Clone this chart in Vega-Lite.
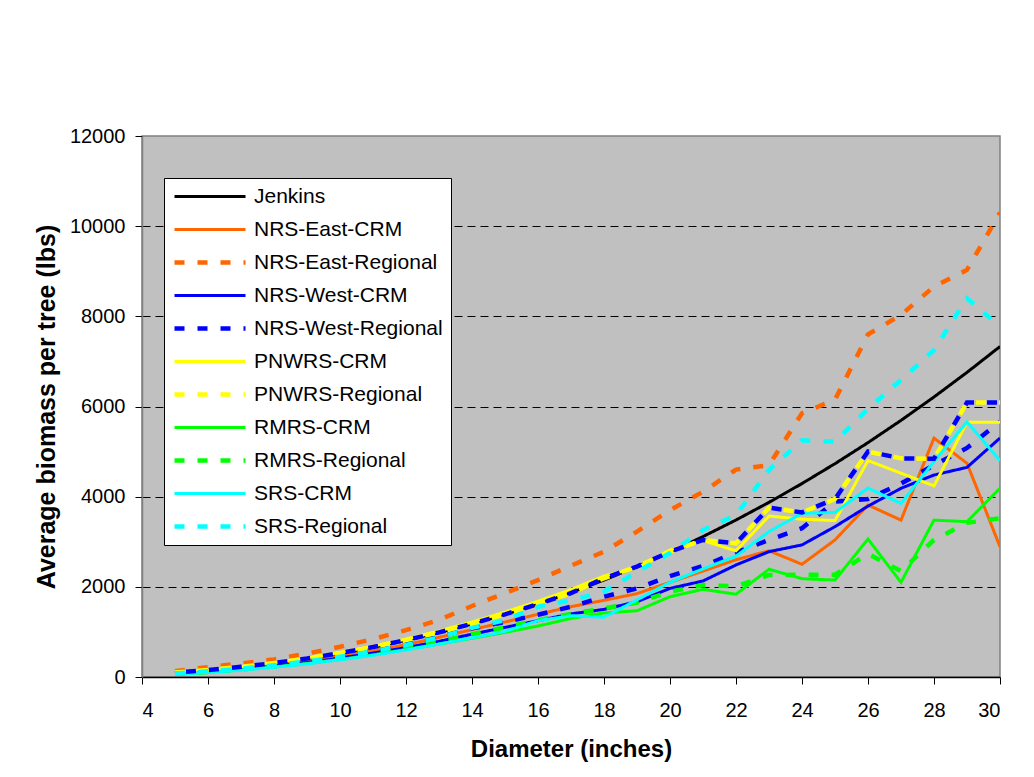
{
  "$schema": "https://vega.github.io/schema/vega-lite/v6.json",
  "autosize": {"type": "none"},
  "padding": {"left": 142, "top": 136, "right": 34, "bottom": 100},
  "width": 858,
  "height": 541,
  "background": "white",
  "config": {
    "font": "Liberation Sans",
    "view": {"fill": "#C0C0C0", "stroke": "#808080", "strokeWidth": 1.5},
    "axis": {"labelFont": "Liberation Sans", "titleFont": "Liberation Sans", "labelColor": "black", "titleColor": "black"}
  },
  "datasets": {
    "biomass": [
      {"d": 5, "Jenkins": 100, "NRS-East-CRM": 85, "NRS-East-Regional": 130, "NRS-West-CRM": 75, "NRS-West-Regional": 85, "PNWRS-CRM": 105, "PNWRS-Regional": 100, "RMRS-CRM": 65, "RMRS-Regional": 70, "SRS-CRM": 60, "SRS-Regional": 80},
      {"d": 6, "Jenkins": 154, "NRS-East-CRM": 135, "NRS-East-Regional": 220, "NRS-West-CRM": 115, "NRS-West-Regional": 130, "PNWRS-CRM": 160, "PNWRS-Regional": 155, "RMRS-CRM": 105, "RMRS-Regional": 110, "SRS-CRM": 100, "SRS-Regional": 125},
      {"d": 7, "Jenkins": 223, "NRS-East-CRM": 195, "NRS-East-Regional": 300, "NRS-West-CRM": 170, "NRS-West-Regional": 190, "PNWRS-CRM": 230, "PNWRS-Regional": 225, "RMRS-CRM": 160, "RMRS-Regional": 165, "SRS-CRM": 150, "SRS-Regional": 185},
      {"d": 8, "Jenkins": 307, "NRS-East-CRM": 270, "NRS-East-Regional": 390, "NRS-West-CRM": 240, "NRS-West-Regional": 265, "PNWRS-CRM": 320, "PNWRS-Regional": 310, "RMRS-CRM": 225, "RMRS-Regional": 235, "SRS-CRM": 215, "SRS-Regional": 260},
      {"d": 9, "Jenkins": 407, "NRS-East-CRM": 355, "NRS-East-Regional": 520, "NRS-West-CRM": 320, "NRS-West-Regional": 355, "PNWRS-CRM": 420, "PNWRS-Regional": 410, "RMRS-CRM": 300, "RMRS-Regional": 315, "SRS-CRM": 290, "SRS-Regional": 345},
      {"d": 10, "Jenkins": 525, "NRS-East-CRM": 460, "NRS-East-Regional": 670, "NRS-West-CRM": 420, "NRS-West-Regional": 460, "PNWRS-CRM": 545, "PNWRS-Regional": 530, "RMRS-CRM": 390, "RMRS-Regional": 410, "SRS-CRM": 380, "SRS-Regional": 450},
      {"d": 11, "Jenkins": 660, "NRS-East-CRM": 580, "NRS-East-Regional": 840, "NRS-West-CRM": 530, "NRS-West-Regional": 580, "PNWRS-CRM": 685, "PNWRS-Regional": 665, "RMRS-CRM": 490, "RMRS-Regional": 510, "SRS-CRM": 480, "SRS-Regional": 570},
      {"d": 12, "Jenkins": 813, "NRS-East-CRM": 715, "NRS-East-Regional": 1040, "NRS-West-CRM": 650, "NRS-West-Regional": 720, "PNWRS-CRM": 840, "PNWRS-Regional": 820, "RMRS-CRM": 610, "RMRS-Regional": 630, "SRS-CRM": 600, "SRS-Regional": 710},
      {"d": 13, "Jenkins": 985, "NRS-East-CRM": 880, "NRS-East-Regional": 1265, "NRS-West-CRM": 790, "NRS-West-Regional": 900, "PNWRS-CRM": 1020, "PNWRS-Regional": 990, "RMRS-CRM": 730, "RMRS-Regional": 780, "SRS-CRM": 730, "SRS-Regional": 880},
      {"d": 14, "Jenkins": 1177, "NRS-East-CRM": 1050, "NRS-East-Regional": 1575, "NRS-West-CRM": 950, "NRS-West-Regional": 1080, "PNWRS-CRM": 1220, "PNWRS-Regional": 1180, "RMRS-CRM": 860, "RMRS-Regional": 950, "SRS-CRM": 870, "SRS-Regional": 1090},
      {"d": 15, "Jenkins": 1389, "NRS-East-CRM": 1220, "NRS-East-Regional": 1860, "NRS-West-CRM": 1100, "NRS-West-Regional": 1220, "PNWRS-CRM": 1440, "PNWRS-Regional": 1390, "RMRS-CRM": 990, "RMRS-Regional": 1100, "SRS-CRM": 1010, "SRS-Regional": 1260},
      {"d": 16, "Jenkins": 1621, "NRS-East-CRM": 1390, "NRS-East-Regional": 2150, "NRS-West-CRM": 1250, "NRS-West-Regional": 1380, "PNWRS-CRM": 1680, "PNWRS-Regional": 1620, "RMRS-CRM": 1130, "RMRS-Regional": 1260, "SRS-CRM": 1250, "SRS-Regional": 1560},
      {"d": 17, "Jenkins": 1875, "NRS-East-CRM": 1560, "NRS-East-Regional": 2470, "NRS-West-CRM": 1400, "NRS-West-Regional": 1560, "PNWRS-CRM": 1940, "PNWRS-Regional": 1860, "RMRS-CRM": 1300, "RMRS-Regional": 1400, "SRS-CRM": 1360, "SRS-Regional": 1700},
      {"d": 18, "Jenkins": 2151, "NRS-East-CRM": 1700, "NRS-East-Regional": 2780, "NRS-West-CRM": 1500, "NRS-West-Regional": 1780, "PNWRS-CRM": 2240, "PNWRS-Regional": 2190, "RMRS-CRM": 1420, "RMRS-Regional": 1520, "SRS-CRM": 1325, "SRS-Regional": 1890},
      {"d": 19, "Jenkins": 2449, "NRS-East-CRM": 1850, "NRS-East-Regional": 3225, "NRS-West-CRM": 1670, "NRS-West-Regional": 1965, "PNWRS-CRM": 2420, "PNWRS-Regional": 2450, "RMRS-CRM": 1470, "RMRS-Regional": 1650, "SRS-CRM": 1710, "SRS-Regional": 2330},
      {"d": 20, "Jenkins": 2770, "NRS-East-CRM": 2100, "NRS-East-Regional": 3700, "NRS-West-CRM": 1965, "NRS-West-Regional": 2240, "PNWRS-CRM": 2820, "PNWRS-Regional": 2780, "RMRS-CRM": 1780, "RMRS-Regional": 1890, "SRS-CRM": 2100, "SRS-Regional": 2750},
      {"d": 21, "Jenkins": 3115, "NRS-East-CRM": 2350, "NRS-East-Regional": 4110, "NRS-West-CRM": 2130, "NRS-West-Regional": 2460, "PNWRS-CRM": 3025, "PNWRS-Regional": 3040, "RMRS-CRM": 1945, "RMRS-Regional": 2040, "SRS-CRM": 2400, "SRS-Regional": 3260},
      {"d": 22, "Jenkins": 3482, "NRS-East-CRM": 2600, "NRS-East-Regional": 4600, "NRS-West-CRM": 2485, "NRS-West-Regional": 2760, "PNWRS-CRM": 2800, "PNWRS-Regional": 2965, "RMRS-CRM": 1835, "RMRS-Regional": 2010, "SRS-CRM": 2680, "SRS-Regional": 3590},
      {"d": 23, "Jenkins": 3874, "NRS-East-CRM": 2800, "NRS-East-Regional": 4700, "NRS-West-CRM": 2780, "NRS-West-Regional": 3040, "PNWRS-CRM": 3570, "PNWRS-Regional": 3755, "RMRS-CRM": 2390, "RMRS-Regional": 2260, "SRS-CRM": 3225, "SRS-Regional": 4590},
      {"d": 24, "Jenkins": 4291, "NRS-East-CRM": 2500, "NRS-East-Regional": 5850, "NRS-West-CRM": 2930, "NRS-West-Regional": 3300, "PNWRS-CRM": 3500, "PNWRS-Regional": 3650, "RMRS-CRM": 2180, "RMRS-Regional": 2270, "SRS-CRM": 3630, "SRS-Regional": 5250},
      {"d": 25, "Jenkins": 4732, "NRS-East-CRM": 3040, "NRS-East-Regional": 6150, "NRS-West-CRM": 3335, "NRS-West-Regional": 3890, "PNWRS-CRM": 3470, "PNWRS-Regional": 3950, "RMRS-CRM": 2150, "RMRS-Regional": 2270, "SRS-CRM": 3650, "SRS-Regional": 5220},
      {"d": 26, "Jenkins": 5199, "NRS-East-CRM": 3815, "NRS-East-Regional": 7600, "NRS-West-CRM": 3790, "NRS-West-Regional": 3950, "PNWRS-CRM": 4800, "PNWRS-Regional": 5000, "RMRS-CRM": 3060, "RMRS-Regional": 2730, "SRS-CRM": 4190, "SRS-Regional": 5950},
      {"d": 27, "Jenkins": 5692, "NRS-East-CRM": 3480, "NRS-East-Regional": 8030, "NRS-West-CRM": 4185, "NRS-West-Regional": 4290, "PNWRS-CRM": 4520, "PNWRS-Regional": 4850, "RMRS-CRM": 2100, "RMRS-Regional": 2350, "SRS-CRM": 3850, "SRS-Regional": 6590},
      {"d": 28, "Jenkins": 6211, "NRS-East-CRM": 5300, "NRS-East-Regional": 8660, "NRS-West-CRM": 4480, "NRS-West-Regional": 4700, "PNWRS-CRM": 4240, "PNWRS-Regional": 4840, "RMRS-CRM": 3480, "RMRS-Regional": 3040, "SRS-CRM": 4780, "SRS-Regional": 7250},
      {"d": 29, "Jenkins": 6757, "NRS-East-CRM": 4740, "NRS-East-Regional": 9030, "NRS-West-CRM": 4650, "NRS-West-Regional": 5080, "PNWRS-CRM": 5650, "PNWRS-Regional": 6090, "RMRS-CRM": 3445, "RMRS-Regional": 3420, "SRS-CRM": 5660, "SRS-Regional": 8400},
      {"d": 30, "Jenkins": 7330, "NRS-East-CRM": 2890, "NRS-East-Regional": 10300, "NRS-West-CRM": 5300, "NRS-West-Regional": 5660, "PNWRS-CRM": 5650, "PNWRS-Regional": 6090, "RMRS-CRM": 4185, "RMRS-Regional": 3520, "SRS-CRM": 4800, "SRS-Regional": 7770}
    ]
  },
  "data": {"name": "biomass"},
  "transform": [
    {"fold": ["Jenkins", "NRS-East-CRM", "NRS-East-Regional", "NRS-West-CRM", "NRS-West-Regional", "PNWRS-CRM", "PNWRS-Regional", "RMRS-CRM", "RMRS-Regional", "SRS-CRM", "SRS-Regional"], "as": ["series", "biomass"]}
  ],
  "encoding": {
    "x": {
      "field": "d", "type": "quantitative",
      "scale": {"domain": [4, 30], "nice": false, "zero": false},
      "axis": {
        "title": "Diameter (inches)", "values": [4, 6, 8, 10, 12, 14, 16, 18, 20, 22, 24, 26, 28, 30],
        "grid": false, "domainColor": "black", "domainWidth": 1.5, "tickColor": "black", "tickSize": 7,
        "labelFontSize": 20, "labelPadding": 16, "titleFontSize": 24, "titleFontWeight": "bold", "titlePadding": 17
      }
    },
    "y": {
      "field": "biomass", "type": "quantitative",
      "scale": {"domain": [0, 12000], "nice": false},
      "axis": {
        "title": "Average biomass per tree (lbs)", "values": [0, 2000, 4000, 6000, 8000, 10000, 12000],
        "format": "d", "grid": true, "gridColor": "black", "gridDash": [8, 5], "gridWidth": 1,
        "gridOpacity": {"condition": {"test": "datum.value == 0 || datum.value == 12000", "value": 0}, "value": 1},
        "domainColor": "#808080", "domainWidth": 1.5, "tickColor": "black", "tickSize": 7,
        "labelFontSize": 20, "labelPadding": 10, "titleFontSize": 25, "titleFontWeight": "bold", "titlePadding": 10
      }
    }
  },
  "layer": [
    {
      "mark": {"type": "line", "strokeCap": "butt", "strokeJoin": "miter", "clip": true},
      "encoding": {
        "color": {
          "field": "series", "type": "nominal",
          "scale": {
            "domain": ["Jenkins", "NRS-East-CRM", "NRS-East-Regional", "NRS-West-CRM", "NRS-West-Regional", "PNWRS-CRM", "PNWRS-Regional", "RMRS-CRM", "RMRS-Regional", "SRS-CRM", "SRS-Regional"],
            "range": ["#000000", "#FF6600", "#FF6600", "#0000FF", "#0000FF", "#FFFF00", "#FFFF00", "#00FF00", "#00FF00", "#00FFFF", "#00FFFF"]
          },
          "legend": {
            "title": null, "orient": "none", "legendX": 22, "legendY": 42,
            "fillColor": "white", "strokeColor": "black", "padding": 8,
            "symbolType": "stroke", "symbolSize": 5041, "symbolStrokeWidth": 3.5,
            "clipHeight": 21,
            "labelFontSize": 21, "labelFont": "Liberation Sans", "labelColor": "black", "labelOffset": 6,
            "rowPadding": 11, "labelLimit": 400
          }
        },
        "strokeDash": {
          "field": "series", "type": "nominal",
          "scale": {
            "domain": ["Jenkins", "NRS-East-CRM", "NRS-East-Regional", "NRS-West-CRM", "NRS-West-Regional", "PNWRS-CRM", "PNWRS-Regional", "RMRS-CRM", "RMRS-Regional", "SRS-CRM", "SRS-Regional"],
            "range": [[1, 0], [1, 0], [10, 13], [1, 0], [10, 13], [1, 0], [10, 13], [1, 0], [10, 13], [1, 0], [10, 13]]
          }
        },
        "strokeWidth": {
          "field": "series", "type": "nominal",
          "scale": {
            "type": "ordinal",
            "domain": ["Jenkins", "NRS-East-CRM", "NRS-East-Regional", "NRS-West-CRM", "NRS-West-Regional", "PNWRS-CRM", "PNWRS-Regional", "RMRS-CRM", "RMRS-Regional", "SRS-CRM", "SRS-Regional"],
            "range": [3, 3, 4.5, 3, 4.5, 3, 4.5, 3, 4.5, 3, 4.5]
          },
          "legend": null
        }
      }
    },
    {
      "transform": [{"filter": "datum.series == 'PNWRS-Regional'"}],
      "mark": {"type": "line", "color": "#0000FF", "strokeWidth": 4.5, "strokeDash": [10, 13], "strokeDashOffset": 12, "strokeCap": "butt", "clip": true},
      "encoding": {}
    }
  ]
}
